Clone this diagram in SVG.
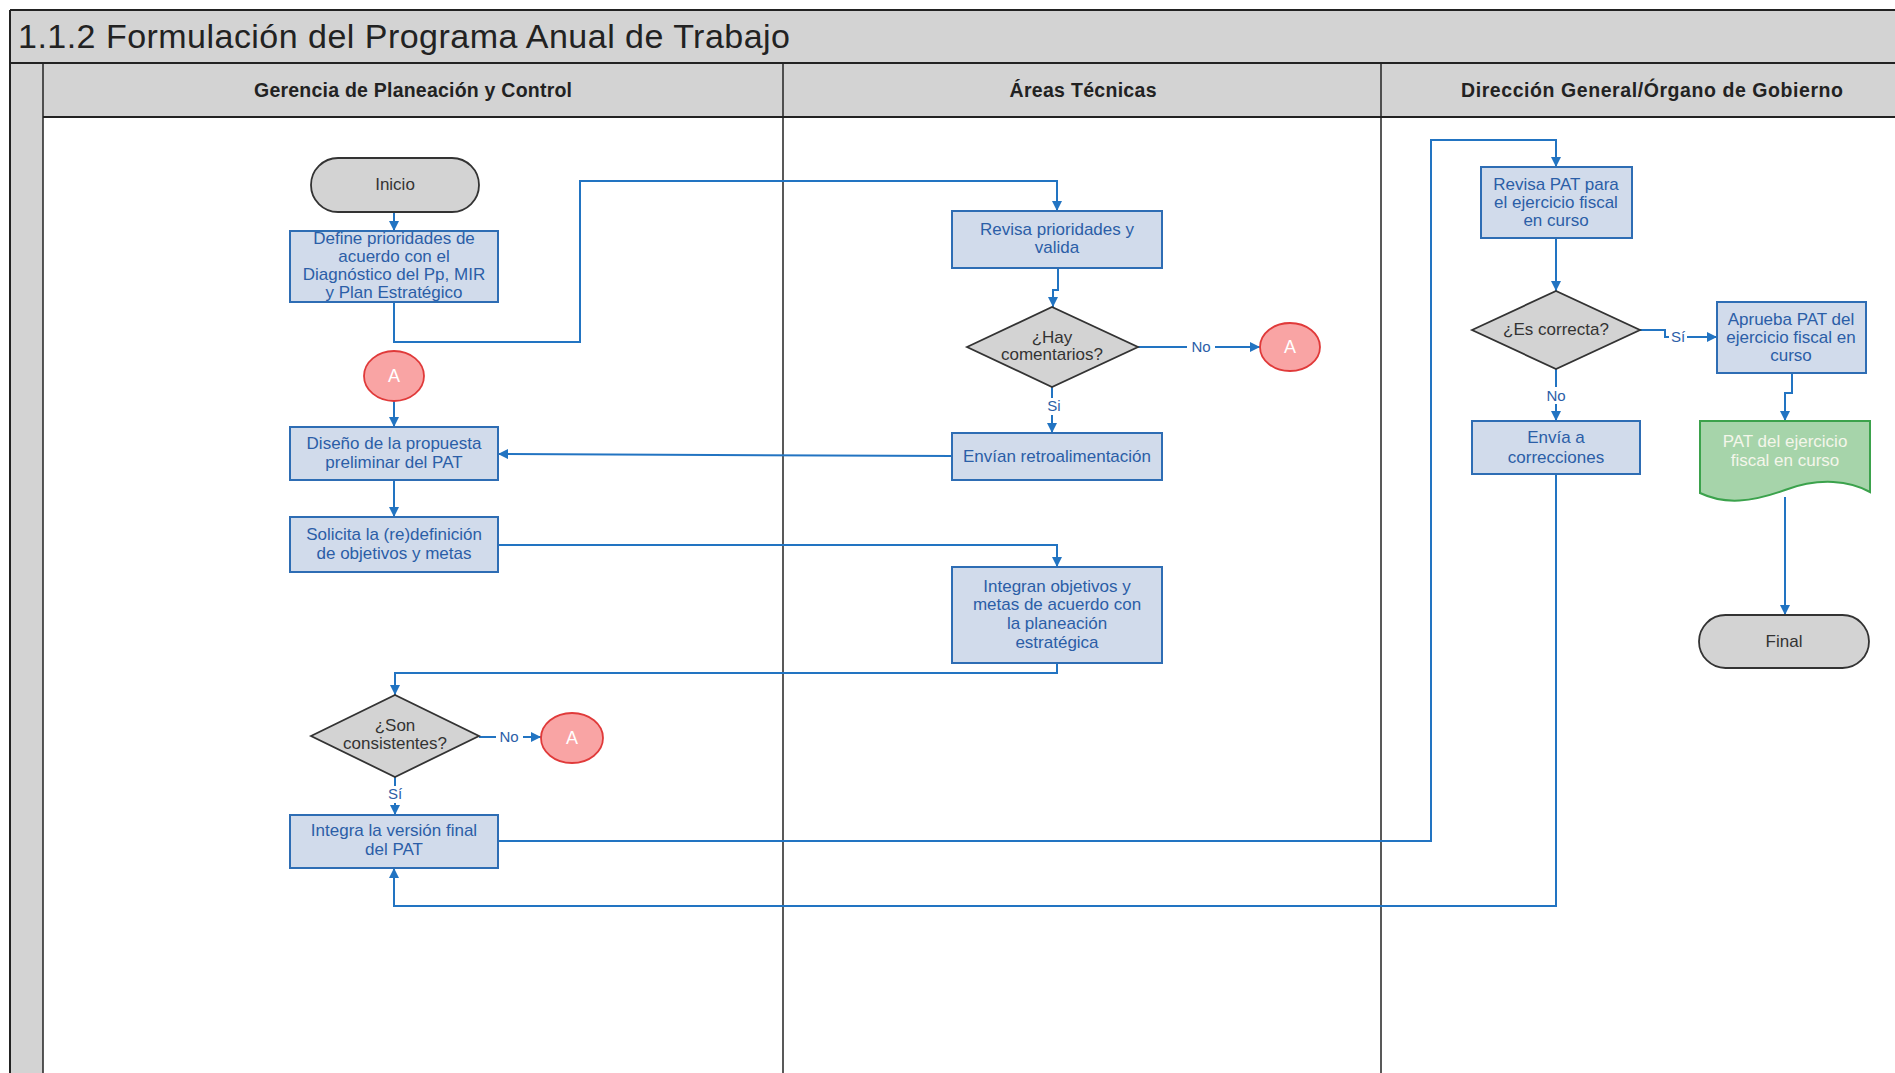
<svg xmlns="http://www.w3.org/2000/svg" width="1895" height="1073" viewBox="0 0 1895 1073">
<defs>
<marker id="ah" viewBox="0 0 10 10" refX="10" refY="5" markerWidth="11" markerHeight="10" markerUnits="userSpaceOnUse" orient="auto">
<path d="M0,0 L10,5 L0,10 z" fill="#2274c2"/>
</marker>
</defs>
<style>
.band{fill:#d3d3d3}
.frame{stroke:#222;stroke-width:2;fill:none}
.lane{stroke:#222;stroke-width:1.5;fill:none}
.box{fill:#d1dbeb;stroke:#2e6db4;stroke-width:2}
.dia{fill:#d3d3d3;stroke:#333;stroke-width:1.8}
.term{fill:#d3d3d3;stroke:#333;stroke-width:1.8}
.conn{fill:#f9a4a4;stroke:#e03a3a;stroke-width:1.8}
.doc{fill:#a6d4aa;stroke:#3ba24c;stroke-width:2}
.t{font-family:"Liberation Sans",Arial,sans-serif;font-size:17px;fill:#2b5ea7;text-anchor:middle}
.td{font-family:"Liberation Sans",Arial,sans-serif;font-size:17px;fill:#333;text-anchor:middle}
.tw{font-family:"Liberation Sans",Arial,sans-serif;font-size:18px;fill:#ffffff;text-anchor:middle}
.tg{font-family:"Liberation Sans",Arial,sans-serif;font-size:17px;fill:#f4f6ea;text-anchor:middle}
.hdr{font-family:"Liberation Sans",Arial,sans-serif;font-size:19.5px;font-weight:bold;fill:#222;text-anchor:middle}
.lbl{font-family:"Liberation Sans",Arial,sans-serif;font-size:15px;fill:#2b5ea7;text-anchor:middle}
.lblbg{fill:#ffffff}
.line{fill:none;stroke:#2274c2;stroke-width:2;marker-end:url(#ah)}
</style>

<g id="pool">
<rect x="10" y="10" width="1895" height="107" class="band"/>
<rect x="10" y="63" width="33" height="1020" class="band"/>
<rect x="43" y="117" width="1860" height="960" fill="#ffffff"/>
<line x1="10" y1="10" x2="1895" y2="10" class="frame"/>
<line x1="10" y1="10" x2="10" y2="1073" class="frame"/>
<line x1="10" y1="63" x2="1895" y2="63" class="frame"/>
<line x1="43" y1="117" x2="1895" y2="117" class="frame"/>
<line x1="43" y1="63" x2="43" y2="1073" class="lane"/>
<line x1="783" y1="63" x2="783" y2="1073" class="lane"/>
<line x1="1381" y1="63" x2="1381" y2="1073" class="lane"/>
<text x="18" y="48" font-family="Liberation Sans, Arial, sans-serif" font-size="34" fill="#222" textLength="772" lengthAdjust="spacing">1.1.2 Formulación del Programa Anual de Trabajo</text>
<text x="413" y="97" class="hdr" textLength="318" lengthAdjust="spacing">Gerencia de Planeación y Control</text>
<text x="1083" y="97" class="hdr" textLength="147" lengthAdjust="spacing">Áreas Técnicas</text>
<text x="1652" y="97" class="hdr" textLength="382" lengthAdjust="spacing">Dirección General/Órgano de Gobierno</text>
</g>

<g id="connectors">
<path class="line" d="M394,212 V231"/>
<path class="line" d="M394,302 V342 H580 V181 H1057 V211"/>
<path class="line" d="M1058,268 V290 H1053 V307"/>
<path class="line" d="M1138,347 H1260"/>
<path class="line" d="M1052,387 V433"/>
<path class="line" d="M952,456 L498,454"/>
<path class="line" d="M394,401 V427"/>
<path class="line" d="M394,480 V517"/>
<path class="line" d="M498,545 H1057 V567"/>
<path class="line" d="M1057,663 V673 H395 V695"/>
<path class="line" d="M479,737 H541"/>
<path class="line" d="M395,777 V815"/>
<path class="line" d="M498,841 H1431 V140 H1556 V167"/>
<path class="line" d="M1556,238 V291"/>
<path class="line" d="M1640,330 H1665 V337 H1717"/>
<path class="line" d="M1556,369 V421"/>
<path class="line" d="M1556,474 V906 H394 V868"/>
<path class="line" d="M1792,373 V393 H1785 V421"/>
<path class="line" d="M1785,497 V615"/>
<rect x="1187" y="338" width="28" height="18" class="lblbg"/>
<text x="1201" y="352" class="lbl">No</text>
<rect x="1044" y="398" width="18" height="17" class="lblbg"/>
<text x="1054" y="411" class="lbl">Si</text>
<rect x="496" y="728" width="27" height="18" class="lblbg"/>
<text x="509" y="742" class="lbl">No</text>
<rect x="386" y="786" width="18" height="17" class="lblbg"/>
<text x="395" y="799" class="lbl">Sí</text>
<rect x="1669" y="328" width="18" height="17" class="lblbg"/>
<text x="1678" y="342" class="lbl">Sí</text>
<rect x="1542" y="387" width="28" height="17" class="lblbg"/>
<text x="1556" y="401" class="lbl">No</text>
</g>

<g id="inicio">
<rect x="311" y="158" width="168" height="54" rx="27" class="term"/>
<text x="395" y="190" class="td">Inicio</text>
</g>
<g id="define">
<rect x="290" y="231" width="208" height="71" class="box"/>
<text class="t"><tspan x="394" y="244">Define prioridades de</tspan><tspan x="394" y="262">acuerdo con el</tspan><tspan x="394" y="280">Diagnóstico del Pp, MIR</tspan><tspan x="394" y="298">y Plan Estratégico</tspan></text>
</g>
<g id="a1">
<ellipse cx="394" cy="376" rx="30" ry="25" class="conn"/>
<text x="394" y="382" class="tw">A</text>
</g>
<g id="diseno">
<rect x="290" y="427" width="208" height="53" class="box"/>
<text class="t"><tspan x="394" y="449">Diseño de la propuesta</tspan><tspan x="394" y="468">preliminar del PAT</tspan></text>
</g>
<g id="solicita">
<rect x="290" y="517" width="208" height="55" class="box"/>
<text class="t"><tspan x="394" y="540">Solicita la (re)definición</tspan><tspan x="394" y="559">de objetivos y metas</tspan></text>
</g>
<g id="revisa">
<rect x="952" y="211" width="210" height="57" class="box"/>
<text class="t"><tspan x="1057" y="235">Revisa prioridades y</tspan><tspan x="1057" y="253">valida</tspan></text>
</g>
<g id="hay">
<polygon points="967,347 1052,307 1138,347 1052,387" class="dia"/>
<text class="td"><tspan x="1052" y="343">¿Hay</tspan><tspan x="1052" y="360">comentarios?</tspan></text>
</g>
<g id="a2">
<ellipse cx="1290" cy="347" rx="30" ry="24" class="conn"/>
<text x="1290" y="353" class="tw">A</text>
</g>
<g id="envian">
<rect x="952" y="433" width="210" height="47" class="box"/>
<text x="1057" y="462" class="t">Envían retroalimentación</text>
</g>
<g id="integran">
<rect x="952" y="567" width="210" height="96" class="box"/>
<text class="t"><tspan x="1057" y="592">Integran objetivos y</tspan><tspan x="1057" y="610">metas de acuerdo con</tspan><tspan x="1057" y="629">la planeación</tspan><tspan x="1057" y="648">estratégica</tspan></text>
</g>
<g id="son">
<polygon points="311,736 395,695 479,736 395,777" class="dia"/>
<text class="td"><tspan x="395" y="731">¿Son</tspan><tspan x="395" y="749">consistentes?</tspan></text>
</g>
<g id="a3">
<ellipse cx="572" cy="738" rx="31" ry="25" class="conn"/>
<text x="572" y="744" class="tw">A</text>
</g>
<g id="integra">
<rect x="290" y="815" width="208" height="53" class="box"/>
<text class="t"><tspan x="394" y="836">Integra la versión final</tspan><tspan x="394" y="855">del PAT</tspan></text>
</g>
<g id="revisapat">
<rect x="1481" y="167" width="151" height="71" class="box"/>
<text class="t"><tspan x="1556" y="190">Revisa PAT para</tspan><tspan x="1556" y="208">el ejercicio fiscal</tspan><tspan x="1556" y="226">en curso</tspan></text>
</g>
<g id="correcta">
<polygon points="1472,330 1556,291 1640,330 1556,369" class="dia"/>
<text x="1556" y="335" class="td">¿Es correcta?</text>
</g>
<g id="aprueba">
<rect x="1717" y="302" width="149" height="71" class="box"/>
<text class="t"><tspan x="1791" y="325">Aprueba PAT del</tspan><tspan x="1791" y="343">ejercicio fiscal en</tspan><tspan x="1791" y="361">curso</tspan></text>
</g>
<g id="envia">
<rect x="1472" y="421" width="168" height="53" class="box"/>
<text class="t"><tspan x="1556" y="443">Envía a</tspan><tspan x="1556" y="463">correcciones</tspan></text>
</g>
<g id="patdoc">
<path d="M1700,421 H1870 V492 C1850,481 1820,477 1785,490 C1752,502 1725,505 1700,493 Z" class="doc"/>
<text class="tg"><tspan x="1785" y="447">PAT del ejercicio</tspan><tspan x="1785" y="466">fiscal en curso</tspan></text>
</g>
<g id="final">
<rect x="1699" y="615" width="170" height="53" rx="26.5" class="term"/>
<text x="1784" y="647" class="td">Final</text>
</g>
</svg>
